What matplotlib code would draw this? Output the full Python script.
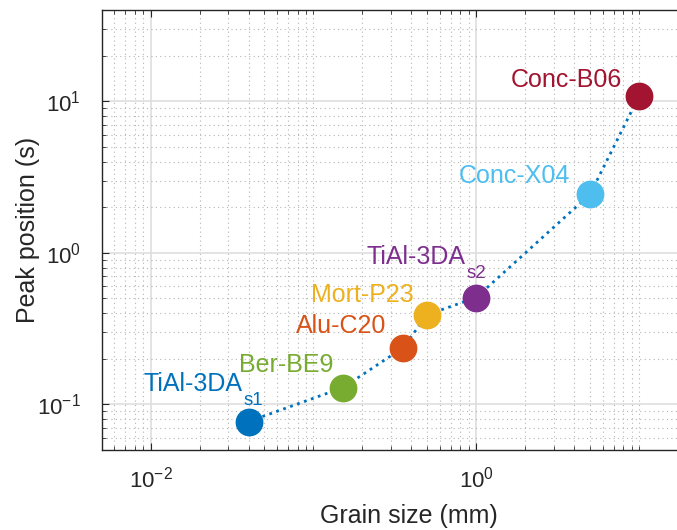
import numpy as np
import matplotlib.pyplot as plt
from matplotlib.ticker import LogLocator, NullFormatter

plt.rcParams['font.family'] = ['Liberation Sans', 'DejaVu Sans']
plt.rcParams['mathtext.fontset'] = 'custom'
plt.rcParams['mathtext.rm'] = 'Liberation Sans'
plt.rcParams['mathtext.it'] = 'Liberation Sans:italic'

# grain size (mm) vs. peak position (s)
names = ['TiAl-3DA', 'Ber-BE9', 'Alu-C20', 'Mort-P23', 'TiAl-3DA', 'Conc-X04', 'Conc-B06']
subs = ['s1', '', '', '', 's2', '', '']
grain = [0.04, 0.152, 0.355, 0.5, 1.0, 5.0, 10.0]
peak = [0.077, 0.129, 0.236, 0.39, 0.507, 2.43, 10.8]

colors = [(0, 0.447, 0.741), (0.466, 0.674, 0.188), (0.85, 0.325, 0.098),
          (0.929, 0.694, 0.125), (0.494, 0.184, 0.556), (0.301, 0.745, 0.933),
          (0.635, 0.078, 0.184)]
# label offsets in points (right edge / baseline of the main text)
offs = [(-4.5, 22), (-7, 11), (-12, 11), (-10, 9), (-8, 24), (-14, 8), (-12, 7)]

fig = plt.figure(figsize=(6.77, 5.30), dpi=100)
ax = fig.add_axes([0.150, 0.151, 0.9086, 0.830])

ax.plot(grain, peak, ':', color=(0, 0.447, 0.741), lw=2, zorder=2)
for x, y, c, n, s, o in zip(grain, peak, colors, names, subs, offs):
    ax.plot(x, y, 'o', color=c, ms=19, mec=c, zorder=3)
    t = ax.annotate(n, (x, y), xytext=o, textcoords='offset points',
                    ha='right', va='baseline', color=c, fontsize=18)
    if s:
        # subscript hangs just below the baseline of the name
        ax.annotate(s, xy=(1, 0), xycoords=t, xytext=(1, 3),
                    textcoords='offset points', ha='left', va='top',
                    color=c, fontsize=13.5)

ax.set_xscale('log')
ax.set_yscale('log')
ax.set_xticks([1e-2, 1e0])
ax.set_yticks([1e-1, 1e0, 1e1])
ax.set_xlim(0.005, 30)
ax.set_ylim(0.05, 40)
ax.xaxis.set_minor_locator(LogLocator(base=10, subs=np.arange(1, 10), numticks=50))
ax.yaxis.set_minor_locator(LogLocator(base=10, subs=np.arange(1, 10), numticks=50))
ax.xaxis.set_minor_formatter(NullFormatter())
ax.yaxis.set_minor_formatter(NullFormatter())

ax.grid(True, which='major', color='#dedede', lw=1.2, ls='-')
ax.grid(True, which='minor', color='#b5b5b5', lw=0.8, ls=(0, (1, 3)))
ax.set_axisbelow(True)

for sp in ax.spines.values():
    sp.set_color('#262626')
    sp.set_linewidth(1.0)
ax.tick_params(which='both', direction='in', top=True, right=True,
               colors='#262626', labelsize=16)
ax.tick_params(which='major', length=5)
ax.tick_params(axis='x', which='major', pad=12)
ax.tick_params(axis='y', which='major', pad=15)
ax.tick_params(which='minor', length=3)

ax.set_xlabel('Grain size (mm)', fontsize=18, color='#262626', labelpad=8)
ax.set_ylabel('Peak position (s)', fontsize=18, color='#262626', labelpad=-2)

fig.savefig('out.png', dpi=100)
